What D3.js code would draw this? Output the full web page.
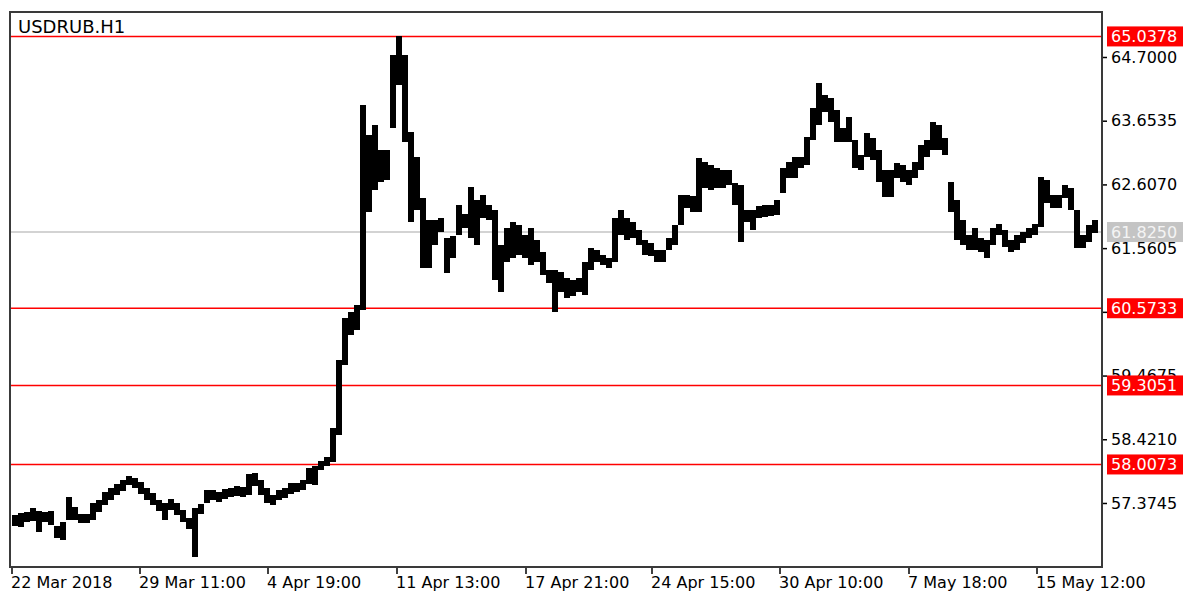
<!DOCTYPE html>
<html lang="en">
<head>
  <meta charset="UTF-8">
  <title>USDRUB.H1</title>
  <script src="https://d3js.org/d3.v7.min.js"></script>
  <style>
    body { margin: 0; background: #fff; }
    svg text { font-family: "DejaVu Sans", sans-serif; }
  </style>
</head>
<body>
<div id="chart"></div>
<script>
  // symbol / timeframe shown in the corner
  var symbol = "USDRUB.H1";

  // hourly bars grouped 6 at a time: high and low of each group
  var barsPerGroup = 6;
  var highs = [
    57.177, 57.210, 57.227, 57.292, 57.243, 57.227, 57.243, 56.997, 57.062, 57.473,
    57.309, 57.194, 57.194, 57.374, 57.424, 57.555, 57.621, 57.686, 57.752, 57.818,
    57.785, 57.719, 57.621, 57.539, 57.424, 57.374, 57.440, 57.374, 57.259, 57.128,
    57.292, 57.358, 57.588, 57.588, 57.555, 57.604, 57.621, 57.654, 57.637, 57.851,
    57.867, 57.752, 57.621, 57.506, 57.588, 57.621, 57.703, 57.703, 57.752, 57.949,
    57.982, 58.064, 58.130, 58.606, 59.723, 60.413, 60.512, 60.627, 63.912, 63.419,
    63.583, 63.172, 63.172, 64.733, 65.038, 64.733, 63.468, 63.057, 62.384, 62.023,
    62.023, 62.056, 61.727, 61.760, 62.269, 62.121, 62.565, 62.351, 62.433, 62.269,
    62.187, 61.612, 61.891, 61.990, 61.941, 61.776, 61.891, 61.694, 61.497, 61.201,
    61.201, 61.169, 61.070, 61.037, 61.070, 61.333, 61.563, 61.530, 61.448, 61.399,
    62.056, 62.187, 62.056, 61.990, 61.858, 61.694, 61.645, 61.530, 61.530, 61.727,
    61.941, 62.433, 62.433, 62.417, 63.041, 62.975, 62.926, 62.877, 62.844, 62.844,
    62.630, 62.598, 62.187, 62.187, 62.253, 62.269, 62.269, 62.351, 62.877, 62.975,
    63.057, 63.057, 63.386, 63.862, 64.273, 64.076, 64.027, 63.829, 63.534, 63.715,
    63.337, 63.090, 63.452, 63.370, 63.172, 62.844, 62.844, 62.959, 62.926, 62.844,
    62.975, 63.255, 63.337, 63.632, 63.583, 63.370, 62.647, 62.351, 62.023, 61.776,
    61.891, 61.727, 61.694, 61.891, 61.957, 61.858, 61.694, 61.776, 61.826, 61.891,
    61.957, 62.729, 62.680, 62.433, 62.433, 62.598, 62.548, 62.187, 61.776, 61.941, 62.023
  ];
  var lows = [
    56.997, 56.980, 57.062, 57.079, 56.898, 57.062, 57.013, 56.800, 56.767, 57.095,
    57.095, 57.046, 57.046, 57.095, 57.227, 57.342, 57.424, 57.506, 57.571, 57.670,
    57.621, 57.522, 57.424, 57.342, 57.243, 57.095, 57.259, 57.177, 57.062, 56.947,
    56.488, 57.194, 57.374, 57.424, 57.391, 57.440, 57.473, 57.489, 57.473, 57.506,
    57.654, 57.506, 57.374, 57.342, 57.424, 57.457, 57.522, 57.555, 57.588, 57.686,
    57.670, 57.916, 57.982, 58.048, 58.491, 59.641, 60.134, 60.216, 60.544, 62.154,
    62.515, 62.647, 62.680, 63.534, 64.240, 63.304, 61.990, 62.187, 61.234, 61.234,
    61.612, 61.826, 61.152, 61.399, 61.776, 61.891, 61.727, 61.612, 62.056, 62.023,
    61.037, 60.840, 61.333, 61.399, 61.448, 61.399, 61.284, 61.333, 61.119, 60.988,
    60.512, 60.840, 60.742, 60.774, 60.840, 60.791, 61.201, 61.333, 61.284, 61.234,
    61.333, 61.776, 61.694, 61.727, 61.612, 61.448, 61.431, 61.333, 61.333, 61.530,
    61.612, 61.941, 62.220, 62.154, 62.154, 62.548, 62.515, 62.548, 62.548, 62.598,
    62.269, 61.661, 61.990, 61.858, 62.056, 62.072, 62.088, 62.105, 62.466, 62.712,
    62.712, 62.877, 62.926, 63.337, 63.583, 63.797, 63.632, 63.304, 63.304, 63.304,
    62.877, 62.844, 63.057, 63.008, 62.647, 62.400, 62.400, 62.712, 62.647, 62.598,
    62.712, 62.844, 63.057, 63.172, 63.172, 63.090, 62.154, 61.694, 61.612, 61.530,
    61.530, 61.497, 61.399, 61.612, 61.776, 61.579, 61.497, 61.530, 61.645, 61.727,
    61.776, 61.908, 62.302, 62.220, 62.220, 62.384, 62.187, 61.563, 61.563, 61.661, 61.809
  ];

  // time axis: bar number of each label and its text
  var timeTicks = [0, 128, 256, 385, 514, 640, 768, 897, 1025];
  var timeLabels = ["22 Mar 2018", "29 Mar 11:00", "4 Apr 19:00", "11 Apr 13:00", "17 Apr 21:00",
                    "24 Apr 15:00", "30 Apr 10:00", "7 May 18:00", "15 May 12:00"];

  // price scale ticks
  var priceTicks = [64.7000, 63.6535, 62.6070, 61.5605, 60.5140, 59.4675, 58.4210, 57.3745];

  // horizontal levels and the last price
  var levels = [65.0378, 60.5733, 59.3051, 58.0073];
  var lastPrice = 61.8250;

  var width = 1183, height = 595;
  var plotLeft = 10, plotTop = 12, plotRight = 1102, plotBottom = 567;

  var svg = d3.select("#chart")
          .append("svg")
          .attr("width", width)
          .attr("height", height);

  var xScale = d3.scaleLinear()
          .domain([0, highs.length * barsPerGroup])
          .range([11.5, 1097.5]);

  var yScale = d3.scaleLinear()
          .domain([56.323, 65.439])
          .range([plotBottom, plotTop]);

  // last price line (grey)
  svg.append("line")
          .attr("x1", plotLeft).attr("x2", plotRight)
          .attr("y1", yScale(lastPrice)).attr("y2", yScale(lastPrice))
          .style("stroke", "#c4c4c4").style("stroke-width", 1.5);

  // level lines (red)
  svg.append("g").selectAll("line")
          .data(levels)
          .join("line")
          .attr("x1", plotLeft).attr("x2", plotRight)
          .attr("y1", function (d) { return yScale(d); })
          .attr("y2", function (d) { return yScale(d); })
          .style("stroke", "#ff0000").style("stroke-width", 1.6);

  // price bars
  svg.append("g").selectAll("rect")
          .data(highs)
          .join("rect")
          .attr("x", function (d, i) { return xScale(i * barsPerGroup); })
          .attr("width", function (d, i) { return xScale((i + 1) * barsPerGroup) - xScale(i * barsPerGroup); })
          .attr("y", function (d) { return yScale(d); })
          .attr("height", function (d, i) { return yScale(lows[i]) - yScale(d); })
          .attr("fill", "#000")
          .attr("shape-rendering", "crispEdges");

  // right price axis
  var yAxis = d3.axisRight(yScale)
          .tickValues(priceTicks)
          .tickSize(5)
          .tickSizeOuter(0)
          .tickPadding(4)
          .tickFormat(d3.format(".4f"));

  var yG = svg.append("g")
          .attr("transform", "translate(" + plotRight + ",0)")
          .call(yAxis);
  yG.select(".domain").remove();
  yG.selectAll("text").style("font-size", "16px").style("fill", "#000");
  yG.selectAll("line").style("stroke", "#000").style("stroke-width", 1.5);

  // bottom time axis
  var xAxis = d3.axisBottom(xScale)
          .tickValues(timeTicks)
          .tickSize(7)
          .tickSizeOuter(0)
          .tickPadding(3)
          .tickFormat(function (d, i) { return timeLabels[i]; });

  var xG = svg.append("g")
          .attr("transform", "translate(0," + plotBottom + ")")
          .call(xAxis);
  xG.select(".domain").remove();
  xG.selectAll("text").style("font-size", "16px").style("fill", "#000")
          .attr("text-anchor", "start").attr("dx", -1);
  xG.selectAll("line").style("stroke", "#000").style("stroke-width", 1.5);

  // frame
  svg.append("rect")
          .attr("x", plotLeft).attr("y", plotTop)
          .attr("width", plotRight - plotLeft).attr("height", plotBottom - plotTop)
          .style("fill", "none").style("stroke", "#3a3a3a").style("stroke-width", 2);

  // price labels on the right
  function priceLabel(value, boxColor, textColor) {
    var g = svg.append("g").attr("transform", "translate(1107," + yScale(value) + ")");
    g.append("rect")
            .attr("x", 0).attr("y", -10)
            .attr("width", 76).attr("height", 20)
            .style("fill", boxColor);
    g.append("text")
            .attr("x", 4).attr("y", 0).attr("dy", "0.36em")
            .style("font-size", "16px").style("fill", textColor)
            .text(d3.format(".4f")(value));
  }

  priceLabel(lastPrice, "#c4c4c4", "#f4f4f4");
  levels.forEach(function (v) { priceLabel(v, "#ff0000", "#fff"); });

  // symbol title
  svg.append("text")
          .attr("x", 18).attr("y", 33)
          .style("font-size", "18px").style("fill", "#000")
          .text(symbol);
</script>
</body>
</html>
